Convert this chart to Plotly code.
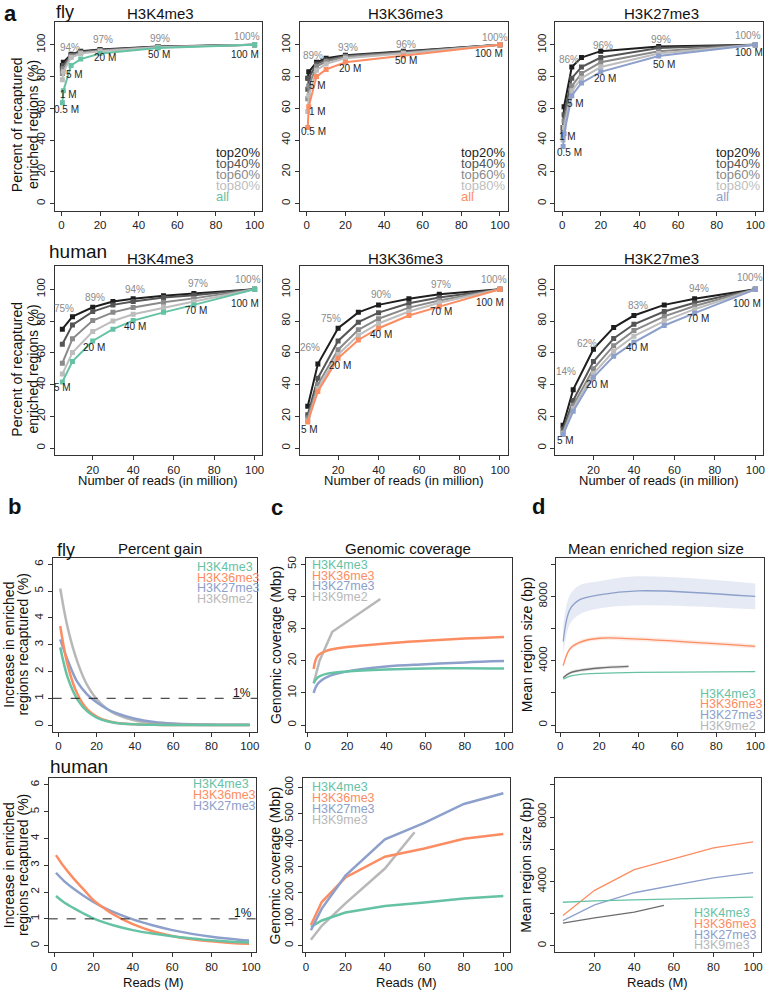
import plotly.graph_objects as go

W, H = 770, 992
FONT = "Liberation Sans, Arial, Helvetica, sans-serif"

GREEN = "#66C2A5"
ORANGE = "#FC8D62"
BLUE = "#8DA0CB"
LIGHTGRAY = "#B8B8B8"
DARKGRAY = "#6E6E6E"
TIER_COLORS = ["#1E1E1E", "#555555", "#8A8A8A", "#BDBDBD"]

# ---------------- panel a : recaptured enriched regions ----------------
TIERS = ["top20%", "top40%", "top60%", "top80%", "all"]
FLY_READS = [0.5, 1, 5, 10, 20, 50, 100]
HUMAN_READS = [5, 10, 20, 30, 40, 55, 70, 100]

# rows: top20, top40, top60, top80, all
FLY_K4 = [
    [87, 89, 94, 96, 97, 99, 100],
    [85, 87, 93.5, 95.5, 96.8, 98.8, 100],
    [82, 85, 93, 95, 96.5, 98.6, 100],
    [78, 83, 92, 94.5, 96, 98.4, 100],
    [63.5, 71, 87, 91, 94.5, 98, 100],
]
FLY_K36 = [
    [79, 83, 89, 91.5, 93.5, 96, 100],
    [72, 79, 88, 90.5, 93, 95.5, 100],
    [66, 74, 86.5, 89.5, 92.5, 95, 100],
    [58, 68, 84, 88, 91.5, 94.5, 100],
    [48, 61, 80, 84.5, 89, 93, 100],
]
FLY_K27 = [
    [48, 61, 86, 92, 96, 99, 100],
    [45, 56, 79, 86, 92, 98, 100],
    [42, 52, 74, 82, 89, 96, 100],
    [40, 48, 71, 79, 86, 94.5, 100],
    [36, 44, 68, 76, 83, 93, 100],
]
HUMAN_K4 = [
    [74.9, 82.8, 88.7, 92.3, 94, 96, 97.3, 100],
    [65.4, 77.6, 86, 90.2, 92.3, 94.8, 96.2, 100],
    [53.5, 68.8, 80.3, 85.5, 88.5, 91.8, 94.3, 100],
    [46.6, 60.2, 73.4, 80.1, 84.3, 88.5, 92.3, 100],
    [41.6, 54.6, 67.5, 74.9, 80.3, 85.5, 90.2, 100],
]
HUMAN_K36 = [
    [26.3, 52.9, 75.5, 85.5, 90.2, 94, 96.9, 100],
    [21, 44, 67.5, 79.3, 85.3, 91.2, 94.8, 100],
    [19, 40, 62, 74.5, 81.5, 88.5, 93, 100],
    [17, 37.5, 59, 71, 78.5, 86, 91.5, 100],
    [16.4, 35.7, 56.6, 68.1, 75.5, 83.5, 89.1, 100],
]
HUMAN_K27 = [
    [14.4, 36.8, 62.3, 75.9, 83.5, 90.2, 94, 100],
    [12, 30, 54.5, 69, 78, 86, 91.5, 100],
    [10, 27, 50, 64.5, 74, 83, 89.5, 100],
    [9, 25, 47, 61, 70.5, 80, 87.5, 100],
    [8.5, 23.2, 44.6, 57.8, 66.6, 77.2, 85, 100],
]

FLY_PCT_TEXT = {
    "K4": ["94%", "97%", "99%", "100%"],
    "K36": ["89%", "93%", "96%", "100%"],
    "K27": ["86%", "96%", "99%", "100%"],
}
FLY_M_TEXT = ["0.5 M", "1 M", "5 M", "20 M", "50 M", "100 M"]
HUMAN_PCT_TEXT = {
    "K4": ["75%", "89%", "94%", "97%", "100%"],
    "K36": ["26%", "75%", "90%", "97%", "100%"],
    "K27": ["14%", "62%", "83%", "94%", "100%"],
}
HUMAN_M_TEXT = ["5 M", "20 M", "40 M", "70 M", "100 M"]

# ---------------- panel b : percent gain ----------------
GAIN_FLY_X = [1, 5, 10, 15, 20, 25, 30, 40, 50, 60, 70, 80, 90, 100]
GAIN_FLY_K4 = [2.9, 1.75, 0.95, 0.52, 0.28, 0.15, 0.08, 0.03, 0.01, 0, 0, 0, 0, 0]
GAIN_FLY_K36 = [3.7, 2.2, 1.15, 0.6, 0.32, 0.17, 0.09, 0.03, 0.01, 0, 0, 0, 0, 0]
GAIN_FLY_K27 = [3.2, 2.4, 1.6, 1.15, 0.85, 0.62, 0.45, 0.24, 0.12, 0.06, 0.03, 0.02, 0.01, 0.01]
GAIN_FLY_K9 = [5.1, 3.6, 2.35, 1.5, 0.97, 0.63, 0.41, 0.17, 0.07, 0.03, 0.01, 0, 0, 0]

GAIN_HUMAN_X = [1, 5, 10, 15, 20, 25, 30, 40, 50, 60, 70, 80, 90, 99]
GAIN_HUMAN_K4 = [1.85, 1.62, 1.4, 1.2, 1.02, 0.88, 0.76, 0.58, 0.45, 0.35, 0.27, 0.2, 0.15, 0.12]
GAIN_HUMAN_K36 = [3.38, 2.95, 2.5, 2.1, 1.7, 1.42, 1.17, 0.8, 0.54, 0.36, 0.24, 0.16, 0.1, 0.07]
GAIN_HUMAN_K27 = [2.72, 2.42, 2.12, 1.86, 1.63, 1.43, 1.26, 0.98, 0.76, 0.58, 0.44, 0.33, 0.25, 0.19]

# ---------------- panel c : genomic coverage (Mbp) ----------------
COV_FLY_X = [3, 5, 10, 20, 40, 60, 80, 100]
COV_FLY_K4 = [13, 14.8, 16, 16.7, 17.3, 17.6, 17.7, 17.6]
COV_FLY_K36 = [17.5, 21.5, 23.2, 24.3, 25.4, 26.2, 26.9, 27.4]
COV_FLY_K27 = [10, 12.8, 15, 16.7, 18.2, 18.9, 19.5, 19.9]
COV_FLY_K9_X = [3, 6, 12.5, 37]
COV_FLY_K9 = [13, 20, 29, 39.2]

COV_HUMAN_X = [2.5, 8, 20, 40, 60, 80, 100]
COV_HUMAN_K4 = [70, 95, 125, 150, 163, 178, 188]
COV_HUMAN_K36 = [78, 165, 258, 337, 368, 405, 423]
COV_HUMAN_K27 = [58, 140, 265, 403, 465, 537, 578]
COV_HUMAN_K9_X = [2.5, 8, 20, 40, 55]
COV_HUMAN_K9 = [22, 75, 160, 292, 430]

# ---------------- panel d : mean region size (bp) ----------------
SIZE_FLY_X = [1.5, 5, 10, 20, 40, 100]
SIZE_FLY_K4 = [2850, 3050, 3150, 3220, 3280, 3330]
SIZE_FLY_K36 = [3700, 4750, 5150, 5400, 5350, 4900]
SIZE_FLY_K27 = [5200, 7200, 7800, 8100, 8350, 8000]
SIZE_FLY_K27_HI = [6200, 8100, 8700, 8950, 9250, 8800]
SIZE_FLY_K27_LO = [4300, 6300, 6900, 7250, 7450, 7200]
SIZE_FLY_K36_HI = [3850, 4880, 5280, 5530, 5480, 5030]
SIZE_FLY_K36_LO = [3550, 4620, 5020, 5270, 5220, 4770]
SIZE_FLY_K9_X = [1.5, 5, 10, 20, 35]
SIZE_FLY_K9 = [2950, 3250, 3400, 3550, 3650]
SIZE_FLY_K9_HI = [3050, 3350, 3500, 3650, 3750]
SIZE_FLY_K9_LO = [2850, 3150, 3300, 3450, 3550]

SIZE_HUMAN_X = [4, 20, 40, 80, 100]
SIZE_HUMAN_K4 = [2700, 2790, 2850, 2960, 3020]
SIZE_HUMAN_K36 = [1875, 3440, 4730, 6080, 6460]
SIZE_HUMAN_K27 = [1560, 2540, 3290, 4210, 4540]
SIZE_HUMAN_K9_X = [4, 20, 40, 55]
SIZE_HUMAN_K9 = [1400, 1730, 2080, 2500]

MARKS = ["H3K4me3", "H3K36me3", "H3K27me3"]

fig = go.Figure()
annotations = []
shapes = []


def ref(n):
    return ("x", "y") if n == 1 else (f"x{n}", f"y{n}")


def add_axes(n, box, xrange, yrange, yticks, yticktext=None):
    left, right, top, bottom = box
    xa = "xaxis" if n == 1 else f"xaxis{n}"
    ya = "yaxis" if n == 1 else f"yaxis{n}"
    xr, yr = ref(n)
    common = dict(showline=True, mirror=True, linecolor="#333333", linewidth=1,
                  ticks="outside", ticklen=4, tickcolor="#333333", tickwidth=1,
                  showgrid=False, zeroline=False,
                  tickfont=dict(size=11.5, color="#222222", family=FONT))
    fig.update_layout(**{
        xa: dict(domain=[left / W, right / W], range=xrange, anchor=yr,
                 tickvals=[0, 20, 40, 60, 80, 100], **common),
        ya: dict(domain=[1 - bottom / H, 1 - top / H], range=yrange, anchor=xr,
                 tickvals=yticks, ticktext=yticktext, tickangle=-90, **common),
    })


def text(x, y, s, size, color="#111111", bold=False, angle=0, xanchor="center", n=None):
    if n is None:
        xref, yref, xx, yy = "paper", "paper", x / W, 1 - y / H
    else:
        xref, yref = ref(n)
        xx, yy = x, y
    if bold:
        s = f"<b>{s}</b>"
    annotations.append(dict(x=xx, y=yy, xref=xref, yref=yref, text=s, showarrow=False,
                            xanchor=xanchor, yanchor="middle", textangle=angle,
                            font=dict(size=size, color=color, family=FONT)))


def line(n, x, y, color, width, markers=False, spline=False):
    xr, yr = ref(n)
    fig.add_trace(go.Scatter(
        x=x, y=y, xaxis=xr, yaxis=yr, mode="lines+markers" if markers else "lines",
        line=dict(color=color, width=width, shape="spline" if spline else "linear"),
        marker=dict(symbol="square", size=5, color=color),
        showlegend=False, hoverinfo="skip"))


def band(n, x, lo, hi, color):
    xr, yr = ref(n)
    fig.add_trace(go.Scatter(x=x, y=hi, xaxis=xr, yaxis=yr, mode="lines",
                             line=dict(width=0, shape="spline"), showlegend=False, hoverinfo="skip"))
    fig.add_trace(go.Scatter(x=x, y=lo, xaxis=xr, yaxis=yr, mode="lines",
                             line=dict(width=0, shape="spline"), fill="tonexty", fillcolor=color,
                             showlegend=False, hoverinfo="skip"))


# ---------------- panel a ----------------
COLS_A = [(54, 263), (301, 510), (558, 767)]
ROW_A = [(20, 209), (265, 454)]
A_FLY = [FLY_K4, FLY_K36, FLY_K27]
A_HUMAN = [HUMAN_K4, HUMAN_K36, HUMAN_K27]
ALL_COLORS = [GREEN, ORANGE, BLUE]
KEYS = ["K4", "K36", "K27"]

# label anchors in data units (picked by eye from the figure)
FLY_PCT_POS = {
    "K4": [(4.6, 98.6), (21.3, 103.1), (51.2, 103.8), (96.1, 105.5)],
    "K36": [(3.4, 93.4), (21.1, 98.6), (51.2, 100.2), (97.2, 104.8)],
    "K27": [(3.4, 90.8), (21.2, 99.6), (51, 103.4), (96, 105.9)],
}
FLY_M_POS = {
    "K4": [(2.5, 59), (3.6, 68.5), (6.9, 81), (22.4, 91.7), (50.7, 94.2), (95.1, 94.2)],
    "K36": [(3.5, 45.3), (5.3, 58.3), (5.7, 74.6), (22.4, 85), (51.6, 90.2), (94.3, 94.4)],
    "K27": [(3.6, 32.1), (2.9, 42.2), (6.8, 63), (22.4, 78.7), (52.5, 87.5), (96.5, 95)],
}
HUMAN_PCT_POS = {
    "K4": [(5.6, 88.1), (21, 94.8), (40.9, 100.1), (72.1, 103.5), (96.5, 106)],
    "K36": [(6.3, 63.4), (16.6, 81.8), (41, 96.9), (70.8, 103.2), (97.2, 106)],
    "K27": [(6.6, 48.3), (16.9, 65.7), (42.1, 89.8), (72, 100.3), (97.6, 107.6)],
}
HUMAN_M_POS = {
    "K4": [(5, 38.4), (20.7, 63.4), (40.8, 76.6), (70.9, 86.7), (95.5, 91.3)],
    "K36": [(6.1, 11.8), (20.9, 52), (41, 71.8), (70.9, 86), (95.3, 91.7)],
    "K27": [(6.1, 4.9), (21.9, 40.3), (41.6, 63.4), (71.9, 81.4), (96, 90.9)],
}

n = 0
for row, (top, bottom) in enumerate(ROW_A):
    for col, (left, right) in enumerate(COLS_A):
        n += 1
        fly = row == 0
        xrange = [-3.5, 104] if fly else [1.2, 103.8]
        add_axes(n, (left, right, top, bottom), xrange, [-4.4, 114.4], [0, 20, 40, 60, 80, 100])
        reads = FLY_READS if fly else HUMAN_READS
        series = (A_FLY if fly else A_HUMAN)[col]
        colors = TIER_COLORS + [ALL_COLORS[col]]
        for vals, c in zip(series, colors):
            line(n, reads, vals, c, 2, markers=True)
        key = KEYS[col]
        pct_txt = (FLY_PCT_TEXT if fly else HUMAN_PCT_TEXT)[key]
        pct_pos = (FLY_PCT_POS if fly else HUMAN_PCT_POS)[key]
        for s, (x, y) in zip(pct_txt, pct_pos):
            text(x, y, s, 10, "#8A8A8A", n=n)
        m_txt = FLY_M_TEXT if fly else HUMAN_M_TEXT
        m_pos = (FLY_M_POS if fly else HUMAN_M_POS)[key]
        for s, (x, y) in zip(m_txt, m_pos):
            text(x, y, s, 10, "#1E1E1E", n=n)
        # panel title
        title_y = 12 if fly else 257
        text((left + right) / 2 + 2, title_y, MARKS[col], 15)
        if fly:
            # tier legend
            lx = right - 49
            for i, (lab, c) in enumerate(zip(TIERS, colors)):
                text(lx, 151 + i * 11, lab, 13, c, xanchor="left")
        else:
            text((left + right) / 2, bottom + 25, "Number of reads (in million)", 13)

# row labels / y titles for panel a
text(10, 12, "a", 22, bold=True)
text(64, 10, "fly", 18)
text(77, 250, "human", 19)
for top, bottom in ROW_A:
    yc = (top + bottom) / 2 + 8
    text(16, yc, "Percent of recaptured", 14, angle=-90)
    text(32, yc, "enriched regions (%)", 14, angle=-90)

# ---------------- panels b, c, d ----------------
BOX_B_FLY = (52, 258, 557, 731)
BOX_B_HUM = (48, 257, 778, 952)
BOX_C_FLY = (307, 514, 557, 731)
BOX_C_HUM = (304, 512, 778, 952)
BOX_D_FLY = (559, 768, 557, 731)
BOX_D_HUM = (558, 765, 778, 952)

# b : percent gain
add_axes(7, BOX_B_FLY, [-2.96, 103.96], [-0.24, 6.24], [0, 1, 2, 3, 4, 5, 6])
add_axes(10, BOX_B_HUM, [-2.7, 102.7], [-0.24, 6.24], [0, 1, 2, 3, 4, 5, 6])
for nn in (7, 10):
    xr, yr = ref(nn)
    shapes.append(dict(type="line", xref=f"{xr} domain", yref=yr, x0=0, x1=1, y0=1, y1=1,
                       line=dict(color="#222222", width=1, dash="dash")))
line(7, GAIN_FLY_X, GAIN_FLY_K9, LIGHTGRAY, 2.5, spline=True)
line(7, GAIN_FLY_X, GAIN_FLY_K27, BLUE, 2.5, spline=True)
line(7, GAIN_FLY_X, GAIN_FLY_K36, ORANGE, 2.5, spline=True)
line(7, GAIN_FLY_X, GAIN_FLY_K4, GREEN, 2.5, spline=True)
line(10, GAIN_HUMAN_X, GAIN_HUMAN_K27, BLUE, 2.5, spline=True)
line(10, GAIN_HUMAN_X, GAIN_HUMAN_K36, ORANGE, 2.5, spline=True)
line(10, GAIN_HUMAN_X, GAIN_HUMAN_K4, GREEN, 2.5, spline=True)
text(243, 692, "1%", 12)
text(244, 913, "1%", 12)

# c : genomic coverage
add_axes(8, BOX_C_FLY, [-0.9, 103.9], [-2, 52], [0, 10, 20, 30, 40, 50])
add_axes(11, BOX_C_HUM, [-1.5, 103.2], [-25, 634], [0, 100, 200, 300, 400, 500, 600])
line(8, COV_FLY_K9_X, COV_FLY_K9, LIGHTGRAY, 2.5)
line(8, COV_FLY_X, COV_FLY_K27, BLUE, 2.5, spline=True)
line(8, COV_FLY_X, COV_FLY_K4, GREEN, 2.5, spline=True)
line(8, COV_FLY_X, COV_FLY_K36, ORANGE, 2.5, spline=True)
line(11, COV_HUMAN_K9_X, COV_HUMAN_K9, LIGHTGRAY, 2.5)
line(11, COV_HUMAN_X, COV_HUMAN_K4, GREEN, 2.5)
line(11, COV_HUMAN_X, COV_HUMAN_K36, ORANGE, 2.5)
line(11, COV_HUMAN_X, COV_HUMAN_K27, BLUE, 2.5)

# d : mean region size
DTICKS = [0, 2000, 4000, 6000, 8000, 10000]
DTEXT = ["0", "", "4000", "", "8000", ""]
add_axes(9, BOX_D_FLY, [-2, 104.5], [-400, 10400], DTICKS, DTEXT)
add_axes(12, BOX_D_HUM, [0.2, 104], [-400, 10400], DTICKS, DTEXT)
band(9, SIZE_FLY_X, SIZE_FLY_K27_LO, SIZE_FLY_K27_HI, "rgba(141,160,203,0.22)")
band(9, SIZE_FLY_X, SIZE_FLY_K36_LO, SIZE_FLY_K36_HI, "rgba(252,141,98,0.18)")
band(9, SIZE_FLY_K9_X, SIZE_FLY_K9_LO, SIZE_FLY_K9_HI, "rgba(150,150,150,0.25)")
line(9, SIZE_FLY_X, SIZE_FLY_K27, BLUE, 1.3, spline=True)
line(9, SIZE_FLY_X, SIZE_FLY_K36, ORANGE, 1.3, spline=True)
line(9, SIZE_FLY_K9_X, SIZE_FLY_K9, DARKGRAY, 1.3, spline=True)
line(9, SIZE_FLY_X, SIZE_FLY_K4, GREEN, 1.3, spline=True)
line(12, SIZE_HUMAN_X, SIZE_HUMAN_K36, ORANGE, 1.3)
line(12, SIZE_HUMAN_X, SIZE_HUMAN_K27, BLUE, 1.3)
line(12, SIZE_HUMAN_X, SIZE_HUMAN_K4, GREEN, 1.3)
line(12, SIZE_HUMAN_K9_X, SIZE_HUMAN_K9, DARKGRAY, 1.3)

# legends for b, c, d
FLY_LEG = ["H3K4me3", "H3K36me3", "H3K27me3", "H3K9me2"]
HUMAN_LEG = ["H3K4me3", "H3K36me3", "H3K27me3", "H3K9me3"]
LEG_COLORS = [GREEN, ORANGE, BLUE, LIGHTGRAY]
for i, (lab, c) in enumerate(zip(FLY_LEG, LEG_COLORS)):
    text(195, 566 + i * 10.8, lab, 12.5, c, xanchor="left")
    text(311, 564 + i * 10.8, lab, 12.5, c, xanchor="left")
    text(702, 693 + i * 10.8, lab, 12.5, c, xanchor="left")
for i, (lab, c) in enumerate(zip(HUMAN_LEG[:3], LEG_COLORS[:3])):
    text(191, 784 + i * 10.8, lab, 12.5, c, xanchor="left")
for i, (lab, c) in enumerate(zip(HUMAN_LEG, LEG_COLORS)):
    text(311, 787 + i * 10.8, lab, 12.5, c, xanchor="left")
    text(696, 913 + i * 10.8, lab, 12.5, c, xanchor="left")

# titles, letters, axis titles
text(14, 506, "b", 22, bold=True)
text(278, 507, "c", 22, bold=True)
text(541, 506, "d", 22, bold=True)
text(65, 549, "fly", 18)
text(79, 766, "human", 19)
text(160, 548, "Percent gain", 15)
text(410, 548, "Genomic coverage", 15)
text(659, 548, "Mean enriched region size", 15)
for cx in (153, 408, 661):
    text(cx, 982, "Reads (M)", 13)
for yc in (644, 865):
    text(8, yc, "Increase in enriched", 14, angle=-90)
    text(22, yc, "regions recaptured (%)", 14, angle=-90)
    text(276, yc, "Genomic coverage (Mbp)", 14, angle=-90)
    text(529, yc, "Mean region size (bp)", 14, angle=-90)

fig.update_layout(
    width=W, height=H, margin=dict(l=0, r=0, t=0, b=0),
    paper_bgcolor="white", plot_bgcolor="white",
    font=dict(family=FONT, color="#111111"),
    annotations=annotations, shapes=shapes, showlegend=False,
)

# the page body has a default 8px margin; drop it so the figure fills the window
fig.write_html("out.html", config={"displayModeBar": False},
               post_script="document.body.style.margin='0';")
